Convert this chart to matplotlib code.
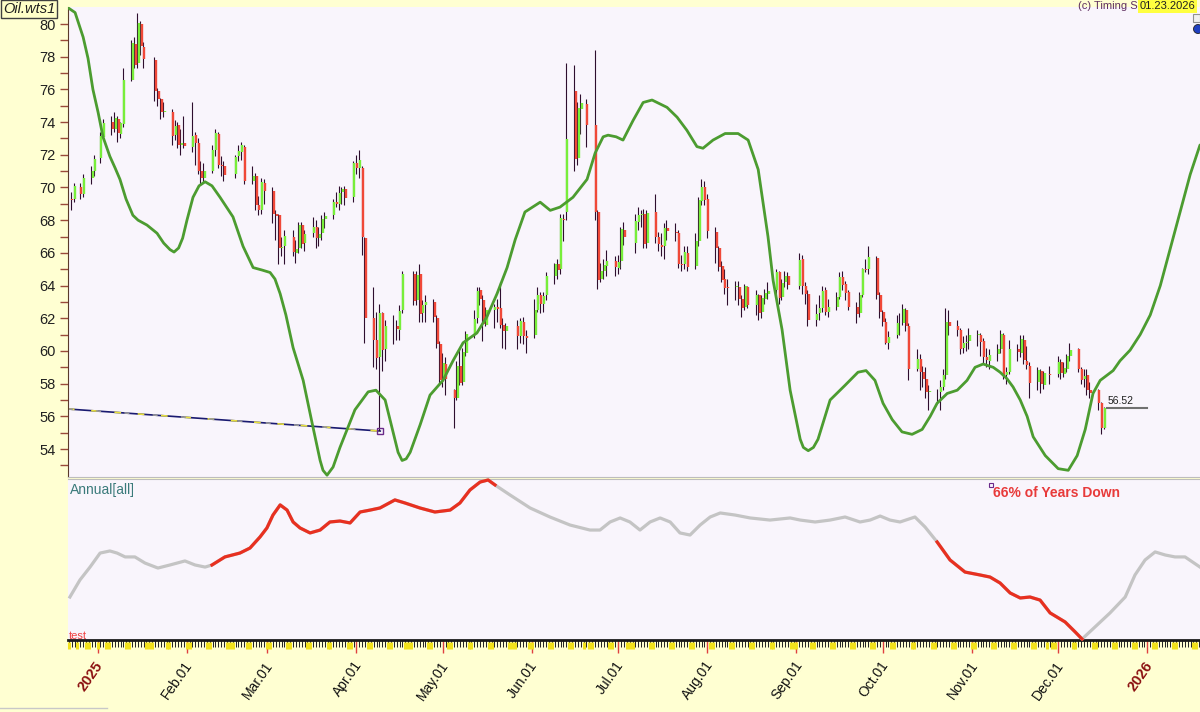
import numpy as np
import pandas as pd
import matplotlib
matplotlib.use('Agg')
import matplotlib.pyplot as plt
import matplotlib.transforms as mtransforms
from matplotlib.patches import Rectangle, Ellipse

plt.rcParams['font.family'] = ['Liberation Sans', 'DejaVu Sans']

# ---- daily bars (Dec 23 2024 .. Dec 17 2025), one line per month ----
holidays = ['2024-12-25', '2025-01-01', '2025-01-20', '2025-02-17', '2025-04-18',
            '2025-05-26', '2025-06-19', '2025-07-04', '2025-09-01', '2025-11-27']

opens = [
    69.3, 69.3, 70.0, 69.6, 70.6, 71.0,
    71.8, 73.1, 74.0, 73.6, 74.2, 73.3, 73.9, 76.6, 78.8, 77.6, 80.0, 78.6, 77.8, 75.9, 75.4, 74.6, 74.6, 73.2, 73.8, 72.6, 72.7,
    72.5, 73.2, 72.7, 71.0, 70.6, 71.0, 72.3, 73.3, 71.4, 71.3, 70.8, 71.9, 72.2, 72.5, 70.4, 70.7, 68.9, 68.6, 70.3,
    69.8, 68.4, 68.3, 66.3, 66.4, 67.0, 66.0, 66.3, 67.7, 66.6, 67.2, 67.6, 66.9, 67.2, 68.1, 68.3, 69.1, 69.0, 69.7, 69.9, 69.4,
    71.5, 71.2, 71.2, 66.9, 62.0, 60.7, 59.6, 62.3, 60.1, 61.5, 61.5, 61.3, 62.5, 64.7, 63.1, 64.7, 62.3, 62.8, 63.0, 62.0, 60.4,
    58.2, 59.2, 57.6, 57.1, 59.1, 58.1, 59.9, 61.0, 62.0, 63.7, 63.1, 61.6, 62.5, 62.7, 62.6, 61.6, 61.2, 61.5, 60.9, 61.8, 60.9,
    61.0, 62.5, 63.4, 62.9, 63.4, 64.6, 65.3, 65.0, 68.1, 68.5, 75.9, 71.8, 74.8, 75.1, 73.8, 68.5, 64.4, 64.9, 65.2, 65.5,
    65.1, 65.5, 67.4, 66.6, 67.9, 68.3, 68.4, 66.6, 68.5, 67.0, 66.5, 66.4, 67.5, 67.3, 67.2, 65.3, 65.3, 66.0, 65.2, 66.7, 69.2, 70.0,
    69.3, 67.3, 66.3, 65.2, 64.4, 63.9, 63.9, 63.9, 63.2, 62.7, 63.9, 62.8, 63.4, 62.4, 63.2, 63.5, 63.7, 64.8, 63.3, 64.2, 64.6,
    64.0, 65.6, 64.0, 63.5, 61.9, 62.3, 62.6, 63.7, 62.4, 62.7, 63.3, 64.5, 64.1, 63.6, 62.7, 62.3, 63.4, 65.0, 65.0, 65.7, 63.4,
    62.4, 61.8, 60.5, 61.0, 61.7, 61.7, 62.5, 61.5, 58.9, 59.5, 58.7, 58.3, 57.5, 57.5, 57.5, 57.8, 58.5, 61.8, 61.5, 61.3, 60.2, 60.5, 60.6,
    61.0, 61.0, 60.6, 59.6, 59.4, 59.8, 60.1, 61.0, 58.5, 58.7, 60.1, 59.9, 60.7, 59.4, 59.1, 58.1, 58.8, 57.9, 58.6,
    58.6, 59.3, 58.6, 58.9, 59.7, 60.1, 58.9, 58.3, 58.5, 57.6, 57.6, 56.8, 55.3,
]
highs = [
    69.7, 70.3, 70.3, 70.8, 71.3, 72.0,
    73.4, 74.2, 74.4, 74.6, 74.4, 74.0, 77.3, 79.0, 79.2, 80.7, 80.2, 78.9, 78.0, 76.1, 75.5, 75.2, 74.8, 74.1, 74.0, 73.6, 74.4,
    75.2, 73.4, 73.0, 71.6, 71.5, 72.6, 73.6, 73.4, 71.9, 71.6, 72.0, 72.6, 72.8, 72.6, 71.3, 70.9, 69.5, 70.6, 70.5,
    70.0, 68.6, 68.4, 67.0, 67.4, 67.4, 66.8, 67.9, 67.9, 67.4, 68.2, 68.0, 67.6, 68.3, 68.5, 69.3, 69.7, 70.1, 70.0, 70.1, 71.6,
    72.0, 72.3, 71.3, 67.0, 63.9, 62.4, 62.9, 62.4, 61.9, 62.2, 61.9, 62.8, 64.9, 64.9, 64.9, 65.3, 63.1, 63.4, 63.2, 62.2, 60.6,
    59.9, 59.6, 57.7, 59.4, 60.1, 60.2, 61.2, 62.5, 63.9, 63.9, 63.4, 62.7, 62.9, 63.2, 64.2, 62.0, 61.7, 61.9, 62.0, 62.1, 61.3,
    63.2, 63.9, 63.6, 63.6, 64.8, 65.4, 65.6, 68.4, 68.4, 77.6, 77.5, 75.2, 75.7, 75.4, 78.4, 68.6, 65.4, 65.6, 66.2, 65.8,
    65.9, 67.6, 67.9, 68.4, 68.8, 68.6, 68.7, 68.6, 69.6, 67.3, 67.2, 67.8, 68.0, 67.8, 67.4, 65.9, 66.4, 66.4, 67.2, 69.4, 70.5, 70.4,
    69.6, 67.6, 66.4, 65.5, 65.0, 64.4, 64.3, 64.3, 63.4, 64.1, 64.0, 63.7, 63.5, 63.4, 63.8, 64.2, 65.0, 64.9, 64.4, 64.9, 64.8,
    66.0, 65.9, 64.2, 63.7, 62.9, 63.4, 64.0, 63.9, 63.2, 63.6, 64.8, 64.9, 64.3, 63.7, 63.0, 63.6, 65.1, 65.6, 66.4, 65.8, 63.6,
    62.5, 62.0, 61.2, 62.2, 62.3, 62.9, 62.6, 61.7, 60.1, 59.8, 59.1, 59.0, 57.9, 57.7, 58.2, 58.9, 62.6, 62.5, 61.9, 61.4, 60.9, 61.0, 61.4,
    61.3, 61.1, 60.8, 60.2, 60.1, 60.4, 61.3, 61.1, 59.0, 60.7, 60.4, 61.0, 61.0, 60.3, 59.3, 59.0, 58.9, 58.8, 59.1,
    59.7, 59.5, 59.3, 59.8, 60.5, 60.2, 59.0, 58.9, 58.9, 58.1, 57.7, 56.9, 56.6,
]
lows = [
    68.6, 69.1, 69.3, 69.4, 70.2, 70.7,
    71.5, 72.9, 73.2, 73.4, 72.8, 73.0, 73.7, 76.5, 77.3, 77.3, 78.1, 77.3, 75.3, 75.0, 74.2, 74.3, 72.6, 72.9, 72.4, 72.0, 72.4,
    72.2, 71.4, 70.8, 70.2, 70.3, 70.9, 71.9, 71.2, 70.7, 70.4, 70.6, 71.6, 71.7, 70.2, 70.2, 68.6, 68.3, 68.4, 69.0,
    67.8, 66.8, 65.3, 65.8, 65.3, 65.8, 65.4, 66.0, 66.3, 66.1, 67.0, 66.3, 66.4, 66.8, 67.5, 68.1, 68.8, 68.6, 69.0, 68.9, 69.1,
    70.8, 70.6, 65.9, 60.5, 59.0, 58.9, 55.1, 58.8, 59.4, 60.4, 60.7, 60.7, 62.3, 62.8, 62.8, 61.8, 61.8, 61.8, 61.8, 60.2, 57.9,
    57.8, 57.3, 55.3, 57.0, 57.9, 57.9, 59.7, 60.8, 61.7, 62.8, 60.6, 61.5, 61.4, 61.8, 61.4, 60.2, 60.1, 60.1, 60.5, 60.4, 59.9,
    60.8, 62.4, 62.3, 62.4, 63.1, 64.1, 64.4, 64.7, 66.7, 68.0, 71.0, 71.4, 73.3, 72.5, 68.0, 63.8, 64.2, 64.4, 64.6, 64.6,
    64.7, 65.0, 66.5, 66.0, 67.4, 67.6, 66.3, 66.3, 66.6, 66.1, 65.8, 65.6, 66.8, 66.7, 65.1, 64.9, 65.0, 64.9, 65.0, 66.4, 68.9, 68.9,
    66.9, 65.4, 64.9, 64.2, 63.5, 62.8, 63.1, 62.8, 62.1, 62.5, 62.6, 62.2, 61.9, 62.0, 62.9, 63.2, 63.4, 62.9, 63.1, 63.9, 63.8,
    63.8, 63.5, 62.9, 61.5, 61.5, 61.9, 62.4, 62.2, 62.1, 62.5, 63.2, 63.7, 63.1, 62.5, 61.7, 62.1, 63.3, 64.8, 64.7, 63.2, 62.0,
    61.5, 60.4, 60.1, 60.8, 61.0, 61.6, 61.2, 58.2, 58.8, 57.6, 57.8, 57.1, 56.4, 56.9, 56.4, 57.6, 58.3, 61.0, 60.9, 59.8, 59.9, 60.0, 60.1,
    60.3, 59.7, 59.2, 59.0, 58.9, 59.4, 59.9, 58.3, 58.0, 58.6, 59.4, 59.6, 59.2, 58.9, 57.1, 57.6, 57.4, 57.7, 58.0,
    58.4, 58.3, 58.4, 58.7, 59.4, 58.7, 58.0, 57.8, 57.3, 57.1, 56.4, 54.9, 55.2,
]
closes = [
    69.24, 70.10, 69.62, 70.60, 70.99, 71.72,
    73.13, 73.96, 73.56, 74.25, 73.32, 73.92, 76.57, 78.82, 77.50, 80.04, 78.68, 77.88, 75.89, 75.44, 74.62, 74.66, 73.17, 73.77, 72.62, 72.73, 72.53,
    73.16, 72.70, 71.03, 70.61, 71.00, 72.32, 73.32, 71.37, 71.29, 70.74, 71.85, 72.25, 72.57, 70.40, 70.70, 68.93, 68.62, 70.35, 69.76,
    68.37, 68.26, 66.31, 66.36, 67.04, 66.03, 66.25, 67.68, 66.55, 67.18, 67.58, 66.90, 67.16, 68.07, 68.28, 69.11, 69.00, 69.65, 69.92, 69.36, 71.48,
    71.20, 71.71, 66.95, 61.99, 60.70, 59.58, 62.35, 60.07, 61.50, 61.53, 61.33, 62.47, 64.68, 63.08, 64.67, 62.27, 62.79, 63.02, 62.05, 60.42, 58.21,
    59.24, 58.29, 57.13, 59.09, 58.07, 59.91, 61.02, 61.95, 63.67, 63.15, 61.62, 62.49, 62.69, 62.56, 61.57, 61.20, 61.53, 60.89, 61.84, 60.94, 60.79,
    62.52, 63.41, 62.85, 63.37, 64.58, 65.29, 64.98, 68.15, 68.04, 72.98, 71.77, 74.84, 75.14, 73.84, 68.51, 64.37, 64.92, 65.24, 65.52, 65.11,
    65.45, 67.45, 67.00, 67.93, 68.33, 68.38, 66.57, 68.45, 66.98, 66.52, 66.38, 67.54, 67.34, 67.20, 65.31, 65.25, 66.03, 65.16, 66.71, 69.21, 70.00, 69.26,
    67.33, 66.29, 65.16, 64.35, 63.88, 63.88, 63.96, 63.17, 62.65, 63.96, 62.80, 63.42, 62.35, 63.21, 63.52, 63.66, 64.80, 63.25, 64.15, 64.60, 64.01,
    65.59, 63.97, 63.48, 61.87, 62.26, 62.63, 63.67, 62.37, 62.69, 63.30, 64.52, 64.05, 63.57, 62.68, 62.28, 63.41, 64.99, 64.98, 65.72, 63.45, 62.37,
    61.78, 60.48, 60.88, 61.69, 61.73, 62.55, 61.51, 58.90, 59.49, 58.70, 58.27, 57.46, 57.54, 57.52, 57.82, 58.50, 61.79, 61.50, 61.31, 60.15, 60.48, 60.57, 60.98,
    61.05, 60.56, 59.60, 59.43, 59.75, 60.13, 61.04, 58.49, 58.69, 60.09, 59.91, 60.74, 59.44, 59.14, 58.06, 58.84, 57.95, 58.65, 58.55,
    59.32, 58.64, 58.95, 59.67, 60.08, 58.88, 58.25, 58.46, 57.60, 57.44, 56.82, 55.27, 56.52,
]

# ---- green cycle curve (days from 2025-01-01, price) ----
cycle_days = [-10.3, -7.8, -5.0, -3.3, -1.6, 0.2, 1.9, 4.3, 6.1, 7.8, 9.9, 12.3, 14.1, 17.2, 20.7,
              23.0, 25.2, 26.6, 28.2, 29.6, 31.1, 33.2, 35.3, 37.4, 39.8, 42.6, 47.1, 50.6, 54.1,
              57.2, 60.0, 61.7, 63.5, 65.5, 68.0, 71.5, 74.6, 77.4, 78.4, 79.8, 81.9, 84.3, 89.5,
              94.1, 96.8, 100.0, 103.4, 104.5, 105.9, 107.3, 108.7, 112.2, 115.6, 120.1, 123.6,
              127.1, 131.9, 135.4, 138.9, 142.4, 145.2, 148.6, 153.9, 157.4, 160.8, 165.3, 170.2,
              173.0, 175.8, 177.5, 180.3, 182.7, 186.2, 189.7, 192.8, 198.0, 201.5, 204.9, 208.4,
              210.5, 214.0, 218.2, 222.7, 226.2, 229.7, 231.4, 233.1, 234.9, 238.0, 240.8, 244.3,
              245.4, 247.1, 248.9, 250.5, 254.7, 259.9, 264.4, 267.2, 270.3, 273.1, 276.3, 279.7,
              283.2, 286.7, 289.5, 291.9, 295.4, 298.9, 302.3, 305.1, 307.9, 311.4, 313.8, 316.2,
              318.3, 320.8, 323.2, 325.3, 329.5, 334.0, 337.5, 340.6, 343.4, 346.1, 348.6, 353.1,
              355.5, 359.0, 362.5, 366.0, 369.5, 374.7, 379.9, 383.3]
cycle_vals = [81.0, 80.7, 79.2, 77.9, 76.0, 74.6, 73.1, 71.9, 71.2, 70.5, 69.3, 68.3, 68.0, 67.7, 67.2,
              66.6, 66.2, 66.05, 66.3, 66.9, 68.0, 69.4, 70.1, 70.35, 70.1, 69.4, 68.2, 66.4, 65.1,
              64.95, 64.8, 64.4, 63.5, 62.2, 60.2, 58.2, 55.6, 53.3, 52.7, 52.4, 52.9, 54.1, 56.4,
              57.5, 57.6, 57.0, 54.6, 53.8, 53.3, 53.4, 53.8, 55.5, 57.3, 58.2, 59.4,
              60.5, 61.1, 62.1, 63.5, 65.1, 66.8, 68.5, 69.1, 68.6, 68.8, 69.4, 70.5,
              72.1, 73.1, 73.2, 73.1, 72.9, 74.1, 75.2, 75.35, 74.9, 74.3, 73.5, 72.5,
              72.4, 72.9, 73.3, 73.3, 72.9, 71.1, 69.05, 67.0, 64.3, 61.3, 57.6, 54.6,
              54.1, 53.9, 54.1, 54.6, 57.0, 57.9, 58.7, 58.8, 58.2, 56.8, 55.8, 55.05,
              54.9, 55.2, 56.0, 56.8, 57.4, 57.6, 58.2, 59.0, 59.2, 59.0, 58.7, 58.3,
              57.8, 57.0, 56.0, 54.75, 53.6, 52.8, 52.7, 53.6, 55.2, 57.4, 58.2, 58.8,
              59.4, 60.05, 61.0, 62.2, 64.0, 67.4, 70.8, 72.6]

# ---- trend line ----
trend_days = [-10.3, 98.3]
trend_vals = [56.45, 55.1]

# ---- lower panel: Annual[all] ----
annual_days = [-9.6, -6.1, -2.6, 0.9, 4.3, 6.8, 9.6, 13.0, 16.5, 21.0, 25.2, 30.4, 33.9, 37.4, 39.8,
               44.3, 49.5, 53.0, 56.5, 58.9, 61.0, 63.5, 65.9, 68.0, 70.4, 73.9, 77.4, 80.8, 84.3,
               87.8, 91.3, 94.8, 98.2, 103.4, 106.9, 112.1, 117.3, 122.6, 126.0, 129.5, 133.0,
               135.8, 138.2, 143.4, 150.4, 157.3, 164.3, 171.2, 174.7, 178.2, 181.7, 185.1, 188.6,
               192.1, 195.6, 199.1, 202.5, 206.0, 209.5, 213.0, 216.5, 221.7, 226.9, 233.8, 240.8,
               244.3, 249.5, 254.7, 259.9, 265.1, 268.6, 272.1, 275.5, 279.0, 284.2, 287.7, 291.9,
               296.4, 301.6, 306.8, 310.3, 313.8, 317.3, 320.8, 324.2, 327.7, 331.2, 336.4, 339.9,
               342.3, 346.8, 352.0, 357.3, 360.7, 364.2, 367.7, 371.2, 374.6, 378.1, 383.3]
annual_vals = [26.7, 37.3, 45.3, 54.0, 55.3, 54.0, 51.6, 51.6, 47.8, 44.7, 46.6, 49.1, 46.6, 45.3, 46.6,
               51.6, 54.0, 57.1, 64.0, 69.6, 77.6, 83.9, 80.7, 73.3, 69.6, 66.5, 68.3, 73.3, 73.9,
               72.7, 79.5, 80.7, 82.0, 87.0, 85.1, 82.0, 79.5, 80.7, 85.1, 93.2, 98.1,
               99.4, 96.3, 90.1, 82.0, 76.4, 71.4, 68.3, 68.3, 73.3, 75.8, 73.3, 68.3,
               73.3, 75.8, 73.3, 66.5, 65.2, 71.4, 76.4, 78.9, 77.6, 75.8, 74.5, 75.8,
               74.5, 73.3, 74.5, 76.4, 73.3, 74.5, 77.0, 74.5, 73.3, 76.4, 70.2, 60.9,
               49.7, 42.2, 40.4, 39.1, 35.4, 29.2, 26.1, 26.7, 24.8, 16.8, 11.2, 5.0,
               0.6, 8.1, 16.8, 26.7, 40.4, 49.7, 54.7, 52.8, 51.6, 51.6, 45.3]
red_spans = [(39.8, 138.2), (291.9, 342.3)]

month_labels = ['2025', 'Feb.01', 'Mar.01', 'Apr.01', 'May.01', 'Jun.01', 'Jul.01',
                'Aug.01', 'Sep.01', 'Oct.01', 'Nov.01', 'Dec.01', '2026']

W, H = 1200, 712
XMIN, XMAX = -10.26, 383.3


def fx(px):
    return px / W


def fy(py):
    return 1 - py / H


base = pd.Timestamp('2025-01-01')
dates = pd.bdate_range('2024-12-23', '2025-12-17', freq='C', holidays=holidays)
days = np.array((dates - base).days, dtype=float)
o, h, l, c = map(np.array, (opens, highs, lows, closes))
n = min(len(days), len(c))
days, o, h, l, c = days[:n], o[:n], h[:n], l[:n], c[:n]

fig = plt.figure(figsize=(12, 7.12), dpi=100, facecolor='#FFFFD2')
ax1 = fig.add_axes([fx(68), fy(477), fx(1200 - 68), (477 - 7) / H])
ax2 = fig.add_axes([fx(68), fy(640), fx(1200 - 68), (640 - 479) / H])

for ax in (ax1, ax2):
    ax.set_facecolor('#F9F5FC')
    ax.set_xlim(XMIN, XMAX)
    ax.spines['right'].set_visible(False)

# ---- upper panel ----
ax1.set_ylim(52.29, 81.04)
ax1.spines['top'].set_visible(False)
ax1.spines['bottom'].set_color('#BDBDBD')
ax1.spines['left'].set_color('#5A3A2A')
ax1.tick_params(axis='x', bottom=False, labelbottom=False)
ax1.set_yticks(np.arange(54, 81, 2))
ax1.set_yticks(np.arange(53, 81, 1), minor=True)
ax1.tick_params(axis='y', which='both', direction='out', length=6, width=1,
                color='#9A4A3A', labelsize=10.5, labelcolor='#202020', pad=3)

up = c >= o
ax1.vlines(days - 0.2, l, h, color='#2E0E2E', lw=0.8, zorder=3)
ax1.vlines(days[up] + 0.3, o[up], c[up], color='#78EE3A', lw=1.7, zorder=4)
ax1.vlines(days[~up] + 0.3, c[~up], o[~up], color='#F04838', lw=1.7, zorder=4)

ax1.plot(cycle_days, cycle_vals, color='#4C9C30', lw=2.0, zorder=5,
         solid_capstyle='round', solid_joinstyle='round')

ax1.plot(trend_days, trend_vals, color='#1A1A70', lw=1.2, zorder=2)
ax1.plot(trend_days, trend_vals, color='#E8E040', lw=1.2, dashes=(4, 10), zorder=2)
ax1.plot(trend_days, trend_vals, color='#9A9A9A', lw=1.2, dashes=(3, 14), dash_capstyle='butt', zorder=2)
ax1.plot(trend_days[-1], trend_vals[-1], marker='s', ms=4, mfc='none', mec='#6A2A8A', mew=1, zorder=6)

last_day, last_close = days[-1], c[-1]
ax1.plot([last_day + 0.8, last_day + 15], [last_close, last_close], color='#707070', lw=1.5, zorder=4)
ax1.text(last_day + 1, last_close + 0.12, f'{last_close:.2f}', fontsize=7.5, color='#202020',
         va='bottom', ha='left', zorder=6)

# ---- lower panel ----
ax2.set_ylim(0, 100)
ax2.spines['left'].set_visible(False)
ax2.spines['top'].set_color('#BDBDBD')
ax2.spines['bottom'].set_color('#1A1A1A')
ax2.spines['bottom'].set_linewidth(2)
ax2.set_yticks([])

ad = np.array(annual_days)
av = np.array(annual_vals)
ax2.plot(ad, av, color='#C4C4C4', lw=2.3, zorder=3, clip_on=False, solid_joinstyle='round')
for a, b in red_spans:
    m = (ad >= a) & (ad <= b)
    ax2.plot(ad[m], av[m], color='#E83020', lw=2.3, zorder=4, clip_on=False, solid_joinstyle='round')

month_days = (pd.date_range('2025-01-01', '2026-01-01', freq='MS') - base).days.values
ax2.set_xticks(month_days)
ax2.set_xticks(np.arange(-10, 384), minor=True)
ax2.tick_params(axis='x', which='major', length=9, width=1, color='#E04040', labelbottom=False)
ax2.tick_params(axis='x', which='minor', length=5, width=0.7, color='#202020')

trans = mtransforms.blended_transform_factory(ax2.transData, ax2.transAxes)
cal = pd.date_range('2024-12-22', '2026-01-18')
off = [(d - base).days for d in cal if d.weekday() >= 5 or d.strftime('%Y-%m-%d') in holidays]
ax2.vlines(off, -0.015, -0.055, transform=trans, color='#F2E21C', lw=2.2, clip_on=False, zorder=5)

for d, lab in zip(month_days, month_labels):
    is_year = not lab.endswith('.01')
    ax2.text(d + 1.0, -0.14, lab, transform=trans, rotation=55, rotation_mode='anchor',
             ha='right', va='center', fontsize=10.5 if is_year else 10,
             fontweight='bold' if is_year else 'normal',
             color='#8B1010' if is_year else '#101010', clip_on=False)

# ---- texts and chrome ----
fig.text(fx(3), fy(9), 'Oil.wts1', style='italic', fontsize=10.5, color='#202020', va='center',
         bbox=dict(boxstyle='square,pad=0.15', facecolor='#FFFFC8', edgecolor='#404040', lw=1))
fig.text(fx(1138), fy(6), '(c) Timing S', fontsize=8, color='#603060', ha='right', va='center')
fig.text(fx(1140), fy(6), '01.23.2026', fontsize=8, color='#202020', ha='left', va='center',
         bbox=dict(boxstyle='square,pad=0.15', facecolor='#FFFF40', edgecolor='none'))
fig.patches.append(Rectangle((fx(1193), fy(22)), fx(7), 8 / H, transform=fig.transFigure,
                             facecolor='#F0F0F0', edgecolor='#909090', lw=0.8))
fig.patches.append(Ellipse((fx(1198), fy(29)), fx(9), 9 / H, transform=fig.transFigure,
                           facecolor='#2040C0', edgecolor='#202020', lw=0.6))

fig.text(fx(70), fy(490), 'Annual[all]', fontsize=10, color='#3A7A7A', va='center', ha='left')
fig.text(fx(69), fy(636), 'test', fontsize=8, color='#F04040', va='center', ha='left')
fig.text(fx(993), fy(493), '66% of Years Down', fontsize=10, fontweight='bold', color='#E83A3A',
         va='center', ha='left')
fig.patches.append(Rectangle((fx(989), fy(487)), fx(4), 4 / H, transform=fig.transFigure,
                             facecolor='none', edgecolor='#6A2A8A', lw=0.8))

fig.lines.append(plt.Line2D([0, fx(107)], [fy(708), fy(708)], transform=fig.transFigure,
                            color='#C8C8C8', lw=1))

fig.savefig('out.png', dpi=100, facecolor=fig.get_facecolor())
